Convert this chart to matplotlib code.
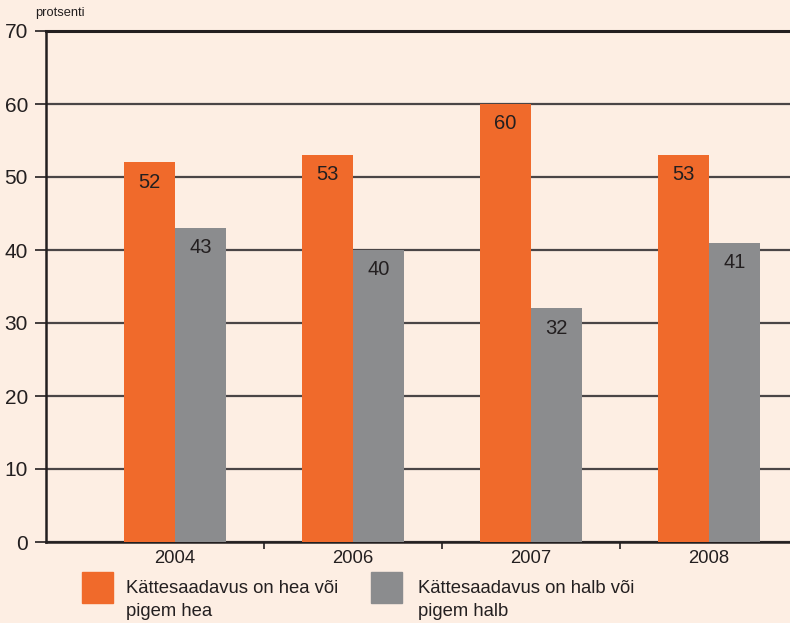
import matplotlib.pyplot as plt
import numpy as np

years = ['2004', '2006', '2007', '2008']
good = [52, 53, 60, 53]
bad = [43, 40, 32, 41]
labels = ['Kättesaadavus on hea või\npigem hea', 'Kättesaadavus on halb või\npigem halb']

bg = '#fdeee3'
orange = '#f06a2b'
grey = '#8b8c8e'
dark = '#231f20'

plt.rcParams['font.family'] = 'Liberation Sans'

fig = plt.figure(figsize=(7.9, 6.23), dpi=100, facecolor=bg)
ax = fig.add_axes([46/790, 1 - 542/623, 1 - 46/790, (542 - 31)/623])
ax.set_facecolor(bg)

x = np.arange(len(years))
w = 0.285
b1 = ax.bar(x - w/2, good, w, color=orange, zorder=3)
b2 = ax.bar(x + w/2, bad, w, color=grey, zorder=3)

for bars in (b1, b2):
    for r in bars:
        ax.text(r.get_x() + r.get_width()/2, r.get_height() - 2.7, str(int(r.get_height())),
                ha='center', va='center', fontsize=14.5, color=dark, zorder=4)

ax.set_ylim(0, 70)
ax.set_xlim(-0.725, 3.455)
ax.set_yticks(range(0, 71, 10))
ax.yaxis.grid(True, color='#4a4546', linewidth=1.6, zorder=1)
ax.set_axisbelow(True)
ax.axhline(70, color=dark, linewidth=2.2, clip_on=False, zorder=2)

ax.set_xticks(x)
ax.set_xticklabels(years)
ax.set_xticks([0.5, 1.5, 2.5], minor=True)
ax.tick_params(axis='x', which='major', length=0, labelsize=13.3, colors=dark, pad=6)
ax.tick_params(axis='x', which='minor', length=5, width=1.2, direction='out', color=dark)
ax.tick_params(axis='y', length=8, width=1.2, labelsize=15, colors=dark, pad=5)

for s in ('top', 'right'):
    ax.spines[s].set_visible(False)
for s in ('left', 'bottom'):
    ax.spines[s].set_color(dark)
    ax.spines[s].set_linewidth(1.8)

fig.text(35/790, 1 - 13/623, 'protsenti', fontsize=9.3, color=dark, ha='left', va='center')

# legend
fig.patches.append(plt.Rectangle((82/790, 1 - 603/623), 31/790, 31/623, transform=fig.transFigure, color=orange))
fig.patches.append(plt.Rectangle((371/790, 1 - 603/623), 31/790, 31/623, transform=fig.transFigure, color=grey))
fig.text(126/790, 1 - 600/623, labels[0], fontsize=13.3, color=dark, ha='left', va='center', linespacing=1.4)
fig.text(418/790, 1 - 600/623, labels[1], fontsize=13.3, color=dark, ha='left', va='center', linespacing=1.4)

fig.savefig('out.png', dpi=100, facecolor=bg)
